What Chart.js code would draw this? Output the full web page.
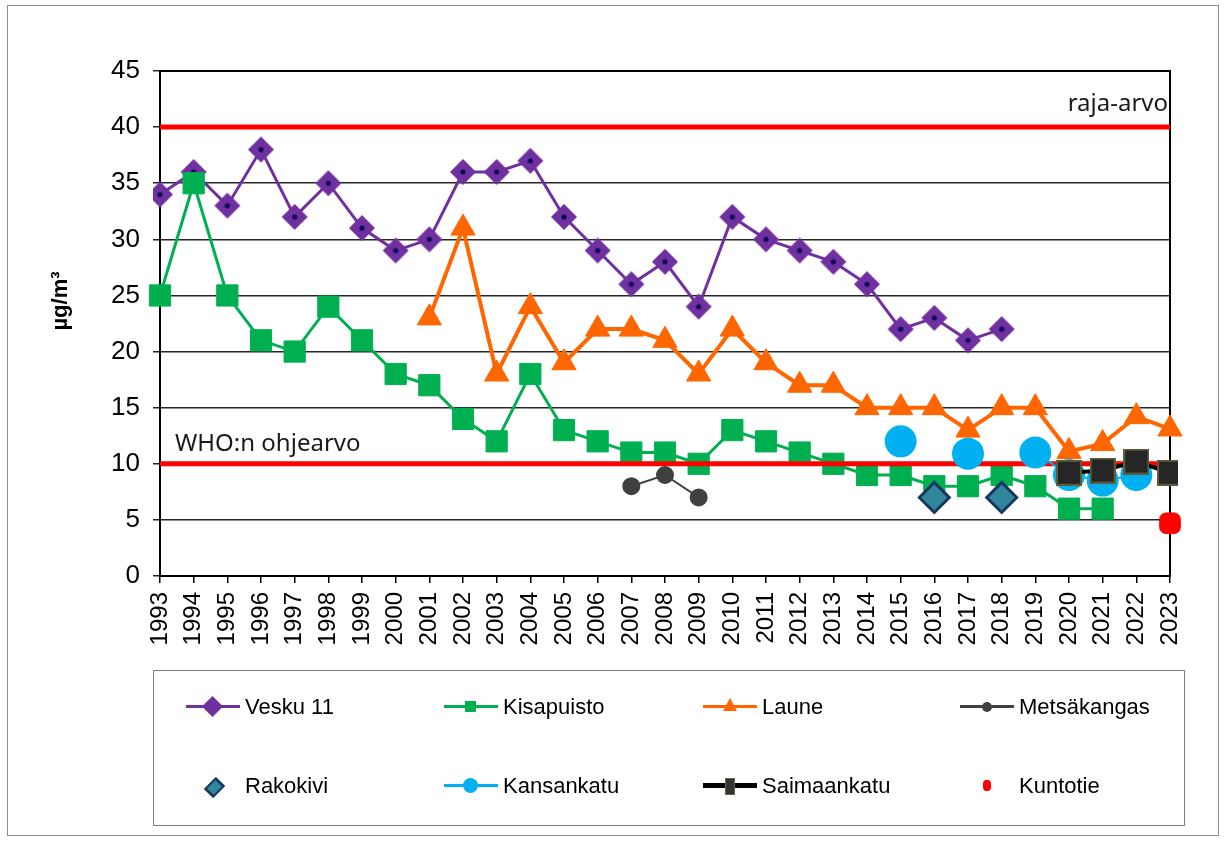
<!DOCTYPE html>
<html>
<head>
<meta charset="utf-8">
<script src="https://cdn.jsdelivr.net/npm/chart.js@4.4.1/dist/chart.umd.min.js"></script>
<style>
  body { margin: 0; background: #fff; font-family: "Liberation Sans", Arial, sans-serif; }
  #wrap { position: relative; width: 1227px; height: 841px; }
  #frame { position: absolute; left: 7px; top: 5px; width: 1212px; height: 831px; border: 1px solid #8c8c8c; box-sizing: border-box; }
  #legend { position: absolute; left: 153px; top: 670px; width: 1032px; height: 156px; border: 1px solid #7f7f7f; box-sizing: border-box; }
  .item { position: absolute; font-size: 22px; color: #000; line-height: 26px; }
  .icon { position: absolute; width: 54px; height: 26px; }
  .icon .ln { position: absolute; left: 0; right: 0; top: 11px; height: 3px; }
  .icon .mk { position: absolute; left: 50%; top: 50%; }
</style>
</head>
<body>
<div id="wrap">
  <div id="frame"></div>
  <canvas id="c" width="1227" height="841" style="position:absolute;left:0;top:0"></canvas>
  <div id="legend"></div>
</div>
<script>
const years = ['1993','1994','1995','1996','1997','1998','1999','2000','2001','2002','2003','2004','2005','2006','2007','2008','2009','2010','2011','2012','2013','2014','2015','2016','2017','2018','2019','2020','2021','2022','2023'];

const vesku = [34,36,33,38,32,35,31,29,30,36,36,37,32,29,26,28,24,32,30,29,28,26,22,23,21,22,null,null,null,null,null];
const kisapuisto = [25,35,25,21,20,24,21,18,17,14,12,18,13,12,11,11,10,13,12,11,10,9,9,8,8,9,8,6,6,null,null];
const laune = [null,null,null,null,null,null,null,null,23,31,18,24,19,22,22,21,18,22,19,17,17,15,15,15,13,15,15,11.1,11.8,14.2,13.1];
const metsakangas = [null,null,null,null,null,null,null,null,null,null,null,null,null,null,8,9,7,null,null,null,null,null,null,null,null,null,null,null,null,null,null];
const rakokivi = [null,null,null,null,null,null,null,null,null,null,null,null,null,null,null,null,null,null,null,null,null,null,null,7,null,7,null,null,null,null,null];
const kansankatu = [null,null,null,null,null,null,null,null,null,null,null,null,null,null,null,null,null,null,null,null,null,null,12,null,10.9,null,11,9,8.5,9,null];
const saimaankatu = [null,null,null,null,null,null,null,null,null,null,null,null,null,null,null,null,null,null,null,null,null,null,null,null,null,null,null,9.2,9.4,10.2,9.2];
const kuntotie = [null,null,null,null,null,null,null,null,null,null,null,null,null,null,null,null,null,null,null,null,null,null,null,null,null,null,null,null,null,null,4.7];

const rajaArvo = 40;
const whoArvo = 10;

// purple diamond with a small navy dot in the middle
function diamondImg() {
  const cv = document.createElement('canvas');
  cv.width = 28; cv.height = 28;
  const g = cv.getContext('2d');
  g.fillStyle = '#7030A0';
  g.beginPath();
  g.moveTo(14, 1); g.lineTo(27, 14); g.lineTo(14, 27); g.lineTo(1, 14); g.closePath();
  g.fill();
  g.fillStyle = '#0b0b5a';
  g.beginPath(); g.arc(14, 14, 2.6, 0, Math.PI * 2); g.fill();
  return cv;
}
function saimaaImg() {
  const cv = document.createElement('canvas');
  cv.width = 26; cv.height = 26;
  const g = cv.getContext('2d');
  g.fillStyle = '#262626';
  g.fillRect(1, 1, 24, 24);
  g.strokeStyle = '#5f5a3a';
  g.lineWidth = 2;
  g.strokeRect(1, 1, 24, 24);
  return cv;
}

const refLabels = {
  id: 'refLabels',
  afterDatasetsDraw(chart) {
    const { ctx, chartArea, scales } = chart;
    ctx.save();
    ctx.fillStyle = '#1a1a1a';
    ctx.font = '24px "Noto Sans", sans-serif';
    ctx.textBaseline = 'alphabetic';
    ctx.textAlign = 'right';
    ctx.fillText('raja-arvo', chartArea.right - 2, scales.y.getPixelForValue(rajaArvo) - 16);
    ctx.textAlign = 'left';
    ctx.fillText('WHO:n ohjearvo', chartArea.left + 15, scales.y.getPixelForValue(whoArvo) - 13);
    // y axis title
    ctx.fillStyle = '#000';
    ctx.font = 'bold 22px "Liberation Sans", Arial, sans-serif';
    ctx.translate(61, 301);
    ctx.rotate(-Math.PI / 2);
    ctx.textAlign = 'center';
    ctx.textBaseline = 'middle';
    ctx.fillText('µg/m³', 0, 0);
    ctx.restore();
  },
  beforeDatasetsDraw(chart) {
    const { ctx, chartArea } = chart;
    ctx.save();
    ctx.strokeStyle = '#000';
    ctx.lineWidth = 2;
    ctx.strokeRect(chartArea.left, chartArea.top, chartArea.right - chartArea.left, chartArea.bottom - chartArea.top);
    ctx.restore();
  }
};

const flat = v => years.map(() => v);

new Chart(document.getElementById('c'), {
  type: 'line',
  data: {
    labels: years,
    datasets: [
      { label: 'Vesku 11', data: vesku, borderColor: '#7030A0', borderWidth: 3, pointStyle: diamondImg(), order: 10 },
      { label: 'Kisapuisto', data: kisapuisto, borderColor: '#00B050', backgroundColor: '#00B050', borderWidth: 3, pointStyle: 'rect', pointRadius: 15, pointBorderWidth: 1, order: 9 },
      { label: 'raja', data: flat(rajaArvo), borderColor: '#FF0000', borderWidth: 5, pointRadius: 0, order: 8 },
      { label: 'who', data: flat(whoArvo), borderColor: '#FF0000', borderWidth: 5, pointRadius: 0, order: 8 },
      { label: 'Laune', data: laune, borderColor: '#FF6600', backgroundColor: '#FF6600', borderWidth: 4, pointStyle: 'triangle', pointRadius: 14, pointBorderWidth: 1, order: 7 },
      { label: 'Metsäkangas', data: metsakangas, borderColor: '#404040', backgroundColor: '#404040', borderWidth: 2, pointStyle: 'circle', pointRadius: 8, order: 6 },
      { label: 'Rakokivi', data: rakokivi, showLine: false, borderColor: '#17375E', backgroundColor: '#31859C', pointStyle: 'rectRot', pointRadius: 15, pointBorderWidth: 3, order: 5 },
      { label: 'Kansankatu', data: kansankatu, borderColor: '#00B0F0', backgroundColor: '#00B0F0', borderWidth: 2, pointStyle: 'circle', pointRadius: 15, order: 4 },
      { label: 'Saimaankatu', data: saimaankatu, borderColor: '#000', borderWidth: 4, pointStyle: saimaaImg(), order: 3 },
      { label: 'Kuntotie', data: kuntotie, showLine: false, borderColor: '#FF0000', backgroundColor: '#FF0000', pointStyle: 'rectRounded', pointRadius: 12, order: 2 }
    ]
  },
  options: {
    responsive: false,
    animation: false,
    spanGaps: false,
    layout: { padding: { left: 0, top: 71, right: 57, bottom: 0 } },
    plugins: { legend: { display: false }, tooltip: { enabled: false } },
    scales: {
      x: {
        offset: false,
        afterFit: s => { s.height = 265; },
        grid: { drawOnChartArea: false, drawTicks: true, tickLength: 7, color: '#000', lineWidth: 1.5 },
        border: { color: '#000', width: 2 },
        ticks: { color: '#000', minRotation: 90, maxRotation: 90, autoSkip: false, padding: 9, font: { size: 24, family: '"Liberation Sans", Arial, sans-serif' } }
      },
      y: {
        min: 0, max: 45,
        afterFit: s => { s.width = 160; },
        grid: { color: '#262626', lineWidth: 1.5, tickLength: 7 },
        border: { color: '#000', width: 2 },
        ticks: { stepSize: 5, color: '#000', padding: 13, font: { size: 26, family: '"Liberation Sans", Arial, sans-serif' } }
      }
    }
  },
  plugins: [refLabels]
});

// legend
const legendItems = [
  { name: 'Vesku 11', x: 32, y: 36, line: '#7030A0', mk: '<div class="mk" style="width:15px;height:15px;margin:-8px 0 0 -8px;background:#7030A0;transform:rotate(45deg)"></div>' },
  { name: 'Kisapuisto', x: 290, y: 36, line: '#00B050', mk: '<div class="mk" style="width:11px;height:11px;margin:-6px 0 0 -6px;background:#00B050"></div>' },
  { name: 'Laune', x: 549, y: 36, line: '#FF6600', mk: '<div class="mk" style="width:0;height:0;margin:-9px 0 0 -7px;border-left:7px solid transparent;border-right:7px solid transparent;border-bottom:13px solid #FF6600"></div>' },
  { name: 'Metsäkangas', x: 806, y: 36, line: '#404040', mk: '<div class="mk" style="width:10px;height:10px;margin:-5px 0 0 -5px;background:#404040;border-radius:50%"></div>' },
  { name: 'Rakokivi', x: 32, y: 115, line: null, mk: '<div class="mk" style="width:9px;height:9px;margin:-5px 0 0 -5px;background:#31859C;border:2px solid #17375E;transform:rotate(45deg) scaleY(1.3)"></div>' },
  { name: 'Kansankatu', x: 290, y: 115, line: '#00B0F0', mk: '<div class="mk" style="width:15px;height:15px;margin:-8px 0 0 -8px;background:#00B0F0;border-radius:50%"></div>' },
  { name: 'Saimaankatu', x: 549, y: 115, line: '#000', mk: '<div class="mk" style="width:8px;height:15px;margin:-8px 0 0 -5px;background:#333;border:1px solid #6b6440"></div>' },
  { name: 'Kuntotie', x: 806, y: 115, line: null, mk: '<div class="mk" style="width:8px;height:11px;margin:-6px 0 0 -4px;background:#FF0000;border-radius:40%"></div>' }
];
const lg = document.getElementById('legend');
legendItems.forEach(it => {
  const icon = document.createElement('div');
  icon.className = 'icon';
  icon.style.left = it.x + 'px';
  icon.style.top = (it.y - 13) + 'px';
  icon.innerHTML = (it.line ? '<div class="ln" style="background:' + it.line + (it.line === '#000' ? ';height:5px;top:10px' : '') + '"></div>' : '') + it.mk;
  lg.appendChild(icon);
  const t = document.createElement('div');
  t.className = 'item';
  t.textContent = it.name;
  t.style.left = (it.x + 59) + 'px';
  t.style.top = (it.y - 13) + 'px';
  lg.appendChild(t);
});
</script>
</body>
</html>
